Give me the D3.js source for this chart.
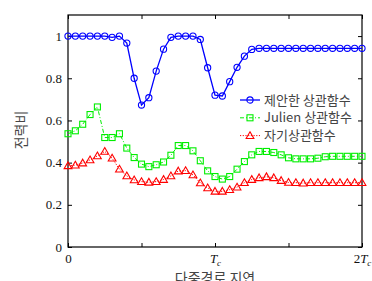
<!DOCTYPE html>
<html>
<head>
<meta charset="utf-8">
<script src="https://cdn.jsdelivr.net/npm/d3@7"></script>
<style>
  body { margin: 0; background: #fff; }
  svg { display: block; }
</style>
</head>
<body>
<div id="chart"></div>
<script>
// sample index 0..40 covers delay 0 .. 2Tc
const proposed = [1.0, 1.0, 1.0, 1.0, 1.0, 1.0, 0.994, 1.0, 0.967, 0.80,
    0.673, 0.708, 0.834, 0.938, 0.994, 1.0, 1.0, 1.0, 0.984, 0.85,
    0.72, 0.716, 0.784, 0.852, 0.905, 0.937, 0.942, 0.942, 0.942, 0.942,
    0.942, 0.942, 0.942, 0.942, 0.942, 0.942, 0.942, 0.942, 0.942, 0.942, 0.942];
const julien = [0.537, 0.551, 0.582, 0.628, 0.664, 0.519, 0.519, 0.537, 0.469, 0.424,
    0.393, 0.381, 0.39, 0.403, 0.435, 0.481, 0.481, 0.456, 0.409, 0.361,
    0.334, 0.322, 0.334, 0.369, 0.405, 0.437, 0.453, 0.453, 0.448, 0.437,
    0.423, 0.418, 0.418, 0.418, 0.421, 0.428, 0.43, 0.43, 0.43, 0.43, 0.43];
const autoCorr = [0.385, 0.388, 0.398, 0.413, 0.432, 0.453, 0.421, 0.369, 0.337, 0.318,
    0.31, 0.307, 0.31, 0.32, 0.337, 0.36, 0.362, 0.342, 0.304, 0.28,
    0.264, 0.264, 0.272, 0.284, 0.305, 0.32, 0.328, 0.333, 0.328, 0.315,
    0.306, 0.305, 0.303, 0.305, 0.305, 0.305, 0.305, 0.305, 0.305, 0.305, 0.305];

const seriesNames = ["제안한 상관함수", "Julien 상관함수", "자기상관함수"];
const xTicks = [0, 10, 20, 30, 40];
const xTickLabels = [["0", ""], ["", ""], ["T", "c"], ["", ""], ["2T", "c"]];
const yTicks = [0, 0.2, 0.4, 0.6, 0.8, 1];
const yTickLabels = ["0", "0.2", "0.4", "0.6", "0.8", "1"];

const W = 372, H = 281;
const margin = { top: 15, right: 10, bottom: 34, left: 68 };
const width = W - margin.left - margin.right;
const height = H - margin.top - margin.bottom;

const svg = d3.select("#chart").append("svg")
    .attr("width", W)
    .attr("height", H);

const g = svg.append("g")
    .attr("transform", `translate(${margin.left}, ${margin.top})`);

const x = d3.scaleLinear().domain([0, 40]).range([0, width]);
const y = d3.scaleLinear().domain([0, 1.1]).range([height, 0]);

const serif = "'Liberation Serif', 'Times New Roman', serif";
const kfont = "'Noto Sans CJK KR', sans-serif";

function styleAxis(sel) {
    sel.select(".domain").remove();
    sel.selectAll(".tick line").attr("stroke", "#000").attr("stroke-width", 1);
    sel.selectAll("text").attr("font-family", serif).attr("font-size", 13).attr("fill", "#111");
}

// bottom axis
const xAxis = d3.axisBottom(x).tickValues(xTicks).tickSizeInner(-4).tickSizeOuter(0).tickPadding(4)
    .tickFormat(() => "");
const gx = g.append("g").attr("transform", `translate(0, ${height})`).call(xAxis);
styleAxis(gx);
gx.selectAll(".tick text").each(function (d, i) {
    const t = d3.select(this);
    const lab = xTickLabels[i];
    t.attr("dy", "0.9em");
    if (lab[0].indexOf("T") >= 0) {
        t.append("tspan").text(lab[0].replace("T", ""));
        t.append("tspan").attr("font-style", "italic").text("T");
        t.append("tspan").attr("font-style", "italic").attr("font-size", 9).attr("dy", 3).text(lab[1]);
    } else {
        t.text(lab[0]);
    }
});

// top axis
const gxt = g.append("g").call(d3.axisTop(x).tickValues(xTicks).tickSizeInner(-4).tickSizeOuter(0).tickFormat(() => ""));
styleAxis(gxt);

// left axis
const yAxis = d3.axisLeft(y).tickValues(yTicks).tickSizeInner(-4).tickSizeOuter(0).tickPadding(6)
    .tickFormat((d, i) => yTickLabels[i]);
const gy = g.append("g").call(yAxis);
styleAxis(gy);

// right axis
const gyr = g.append("g").attr("transform", `translate(${width}, 0)`)
    .call(d3.axisRight(y).tickValues(yTicks).tickSizeInner(-4).tickSizeOuter(0).tickFormat(() => ""));
styleAxis(gyr);

// box
g.append("rect")
    .attr("x", 0).attr("y", 0)
    .attr("width", width).attr("height", height)
    .attr("fill", "none").attr("stroke", "#000").attr("stroke-width", 1.2);

const line = d3.line().x((d, i) => x(i)).y(d => y(d));

const series = [
    { name: seriesNames[0], values: proposed, color: "#0000ff", dash: null, width: 1.3, marker: "circle" },
    { name: seriesNames[1], values: julien, color: "#00ee00", dash: "4,2,1,2", width: 1, marker: "square" },
    { name: seriesNames[2], values: autoCorr, color: "#ff0000", dash: "1.2,1.5", width: 1, marker: "triangle" }
];

function drawMarker(sel, type, color, cx, cy) {
    if (type === "circle") {
        sel.append("circle").attr("cx", cx).attr("cy", cy).attr("r", 3.1)
            .attr("fill", "none").attr("stroke", color).attr("stroke-width", 1.1);
    } else if (type === "square") {
        sel.append("rect").attr("x", cx - 3).attr("y", cy - 3).attr("width", 6).attr("height", 6)
            .attr("fill", "none").attr("stroke", color).attr("stroke-width", 1.1);
    } else {
        sel.append("path")
            .attr("d", d3.symbol().type(d3.symbolTriangle).size(26)())
            .attr("transform", `translate(${cx}, ${cy + 0.6})`)
            .attr("fill", "none").attr("stroke", color).attr("stroke-width", 1.1);
    }
}

// draw from back to front
[2, 1, 0].forEach(k => {
    const s = series[k];
    g.append("path")
        .datum(s.values)
        .attr("d", line)
        .attr("fill", "none")
        .attr("stroke", s.color)
        .attr("stroke-width", s.width)
        .attr("stroke-dasharray", s.dash);
    const mg = g.append("g");
    s.values.forEach((v, i) => drawMarker(mg, s.marker, s.color, x(i), y(v)));
});

// legend
const legend = g.append("g").attr("transform", `translate(${172}, ${85})`);
series.forEach((s, i) => {
    const ly = i * 17.8;
    legend.append("line")
        .attr("x1", 0).attr("x2", 20).attr("y1", ly).attr("y2", ly)
        .attr("stroke", s.color).attr("stroke-width", s.width)
        .attr("stroke-dasharray", s.dash);
    drawMarker(legend, s.marker, s.color, 10, ly);
    legend.append("text")
        .attr("x", 24).attr("y", ly)
        .attr("dy", "0.35em")
        .attr("font-family", kfont)
        .attr("font-size", 13)
        .attr("fill", "#444")
        .text(s.name);
});

// axis labels
svg.append("text")
    .attr("transform", `translate(21, 130) rotate(-90)`)
    .attr("text-anchor", "middle")
    .attr("dy", "0.35em")
    .attr("font-family", kfont)
    .attr("font-size", 14)
    .attr("fill", "#444")
    .text("전력비");

svg.append("text")
    .attr("x", margin.left + x(20))
    .attr("y", 283)
    .attr("text-anchor", "middle")
    .attr("font-family", kfont)
    .attr("font-size", 14)
    .attr("fill", "#444")
    .text("다중경로 지연");
</script>
</body>
</html>
